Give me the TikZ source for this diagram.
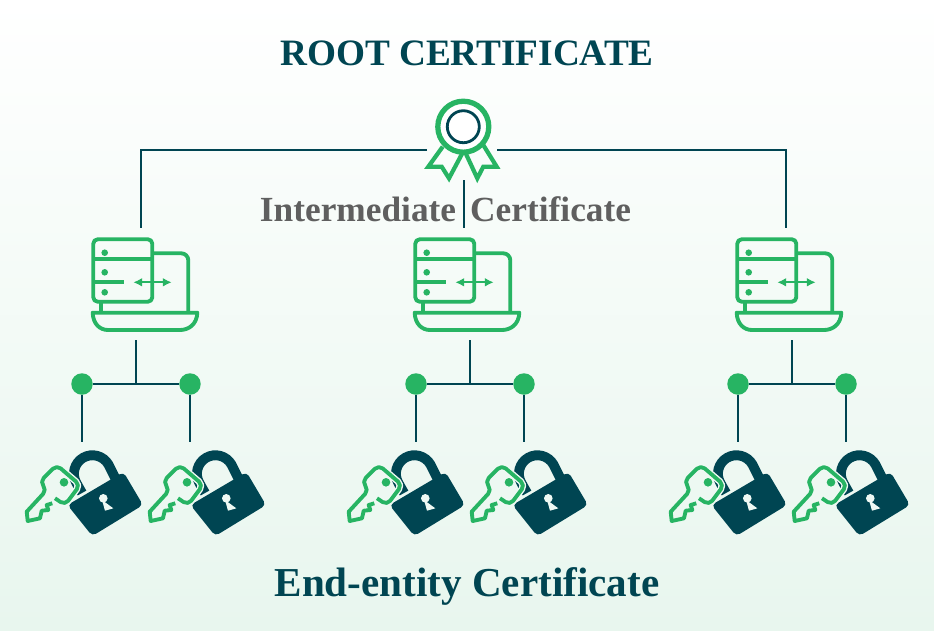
\documentclass[tikz,border=0pt]{standalone}
\usepackage{fontspec}
\setmainfont{Liberation Serif}
\usetikzlibrary{arrows.meta}
\definecolor{certdark}{HTML}{004552}
\definecolor{certgreen}{HTML}{27B463}
\definecolor{certgrey}{HTML}{5F5F5F}
\definecolor{certpale}{HTML}{E8F6EE}
\definecolor{lockhalo}{HTML}{EFF9F4}
\tikzset{
  wire/.style={draw=certdark,line width=1.6pt},
  greenline/.style={draw=certgreen,line width=2.2pt,line join=round},
  dot/.style={circle,fill=certgreen,inner sep=0pt,minimum size=0.43cm},
  title/.style={font=\bfseries\fontsize{21.2pt}{24pt}\selectfont,text=certdark,inner sep=0pt},
  pics/serverbox/.style={code={
    \draw[greenline,rounded corners=2.5pt] (13.3,9.3) rectangle (72.3,71.7);
    \draw[greenline] (13.3,29.3)--(72.3,29.3);
    \draw[greenline] (13.3,52.3)--(44.3,52.3);
    \foreach \y in {22.7,42.3,62.3}{
    \fill[certgreen] (24.7,\y) circle (3.3);
    }
    \draw[greenline,rounded corners=4pt] (72.3,23.3)--(108.3,23.3)--(108.3,82);
    \draw[greenline] (21,71.7)--(21,82);
    \draw[greenline] (12.7,82.7)--(117.3,82.7) .. controls (117,94) and (109,100) .. (100,100)--(28,100) .. controls (20,100) and (13,94) .. (12.7,82.7)--cycle;
    \draw[draw=certgreen,line width=1pt,{Latex[length=5pt,width=5pt]}-{Latex[length=5pt,width=5pt]}] (53.3,52.3)--(91.7,52.3);
  }},
  pics/keylock/.style={code={
    \draw[certdark,line width=5.6pt] (67,53)--(61.4,43) arc[start angle=150,end angle=330,radius=18.5]--(100.5,38.6);
    \fill[certdark,rounded corners=2.5pt] (52.5,65)--(108.5,32)--(128,65)--(77.3,96)--cycle;
    \fill[lockhalo] (88.3,58.3) circle (4.3);
    \fill[lockhalo] (87,60)--(98.3,68.3)--(90,70.7)--cycle;
    \draw[lockhalo,line width=3.8pt,rounded corners=3pt,line join=round] (40,58.3)--(50,65)--(65,45)--(41.7,25)--(25,41.7);
    \draw[greenline,rounded corners=3pt] (40,58.3)--(50,65)--(65,45)--(41.7,25)--(25,41.7)--(31.7,50)[sharp corners]--(11.7,71.7)--(12.7,81)--(25,78.3)--(26.7,70.7)--(33.3,70)--(31.7,65)--(37.3,63.3);
    \fill[certgreen] (49,42.3) circle (4.3);
  }}
}
\begin{document}
\begin{tikzpicture}[x=0.02cm,y=-0.02cm]
\useasboundingbox (0,0) rectangle (934,630);
\shade[top color=white,bottom color=certpale] (0,0) rectangle (934,630);

\node[title] (roottitle) at (467,53) {ROOT CERTIFICATE};
\node[title,font=\bfseries\fontsize{23.4pt}{26pt}\selectfont] (endtitle) at (467,586) {End-entity Certificate};

% root badge
\draw[draw=certgreen,line width=2.4pt,line join=miter] (442.7,146.7)--(428.3,166.7)--(441.7,166.7)--(449,178.3)--(462.3,153.3);
\draw[draw=certgreen,line width=2.4pt,line join=miter] (483.3,145)--(496.7,166.7)--(483.3,166.7)--(477.3,178.3)--(465.7,153.3);
\draw[draw=certgreen,line width=3pt,fill=white] (463.3,126.7) circle (25.5);
\draw[draw=certdark,line width=1.6pt] (463.3,126.7) circle (16);

\coordinate (rootL) at (427,150);
\coordinate (rootR) at (497,150);
\coordinate (rootB) at (464,180);
\coordinate (srv1) at (141,228);
\coordinate (srv2) at (464,228);
\coordinate (srv3) at (786,228);
\draw[wire] (rootL)-|(srv1);
\draw[wire] (rootR)-|(srv3);
\draw[wire] (rootB)--(srv2);

\node[title,text=certgrey,font=\bfseries\fontsize{20.1pt}{22pt}\selectfont] (midtitle) at (445.5,209) {Intermediate\hspace{0.4em}Certificate};

\foreach \x in {0,322,644}{
\pic at (\x+80,230) {serverbox};
}
\foreach \n/\x in {1/0,2/334,3/656}{
\coordinate (up\n) at (\x+136,340);
\coordinate (mid\n) at (\x+136,384);
\node[dot] (dotL\n) at (\x+82,384) {};
\node[dot] (dotR\n) at (\x+190,384) {};
\coordinate (lockL\n) at (\x+82,442);
\coordinate (lockR\n) at (\x+190,442);
\draw[wire] (up\n)--(mid\n);
\draw[wire] (dotL\n)--(dotR\n);
\draw[wire] (dotL\n)--(lockL\n);
\draw[wire] (dotR\n)--(lockR\n);
}
\foreach \x in {15,138,337,460,659,782}{
\pic at (\x,440) {keylock};
}
\end{tikzpicture}
\end{document}
